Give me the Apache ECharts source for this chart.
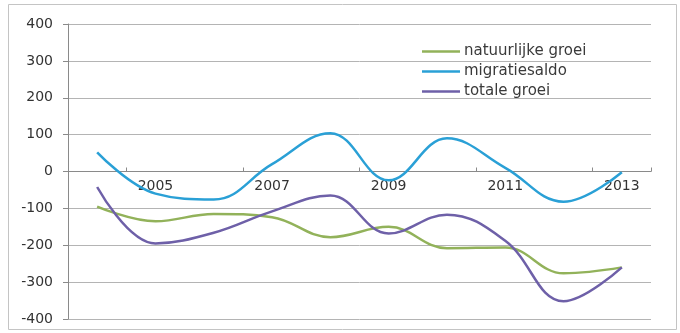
<!DOCTYPE html>
<html>
<head>
<meta charset="utf-8">
<script src="https://cdn.jsdelivr.net/npm/echarts@6/dist/echarts.min.js"></script>
<style>
  html, body { margin: 0; padding: 0; background: #fff; }
  #chart { width: 680px; height: 333px; }
</style>
</head>
<body>
<div id="chart"></div>
<script>
// Years on the category axis
const years = ['2004', '2005', '2006', '2007', '2008', '2009', '2010', '2011', '2012', '2013'];

// Population change per year
const natuurlijkeGroei = [-95, -135, -115, -124, -178, -150, -208, -206, -276, -260];
const migratiesaldo    = [52, -60, -76, 20, 104, -24, 90, 10, -82, -2];
const totaleGroei      = [-42, -195, -166, -108, -65, -168, -117, -188, -352, -260];

const seriesNames = ['natuurlijke groei', 'migratiesaldo', 'totale groei'];
const seriesColors = ['#92b25a', '#2aa0d6', '#6e60a8'];

// Plot area edges
const gridTop = 24;
const gridBottom = 14;
const chartHeight = 333;
// Shift the category axis up so it sits on the value 0 line (middle of -400..400)
const zeroOffset = -(chartHeight - gridTop - gridBottom) / 2;

const chart = echarts.init(document.getElementById('chart'), null, { renderer: 'canvas' });

const lineSeries = [natuurlijkeGroei, migratiesaldo, totaleGroei].map((values, i) => ({
  name: seriesNames[i],
  type: 'line',
  data: values,
  smooth: 0.4,
  symbol: 'none',
  lineStyle: { width: 2.5, color: seriesColors[i] },
  itemStyle: { color: seriesColors[i] },
  z: 3 + i
}));

chart.setOption({
  animation: false,
  backgroundColor: '#ffffff',
  textStyle: { fontFamily: 'DejaVu Sans' },
  graphic: [{
    type: 'rect',
    shape: { x: 8.5, y: 4.5, width: 668, height: 325 },
    style: { fill: 'none', stroke: '#c4c4c4', lineWidth: 1 },
    silent: true
  }],
  grid: { left: 68, right: 29, top: gridTop, bottom: gridBottom, containLabel: false, outerBoundsMode: 'none' },
  legend: {
    orient: 'vertical',
    left: 417,
    top: 39,
    itemWidth: 38,
    itemHeight: 12,
    itemGap: 5,
    icon: 'path://M0,5 L38,5 L38,7.5 L0,7.5 Z',
    textStyle: { fontFamily: 'DejaVu Sans', fontSize: 15, color: '#3a3a3a', padding: [0, 0, 0, -1] },
    data: seriesNames
  },
  xAxis: {
    type: 'category',
    data: years,
    boundaryGap: true,
    position: 'bottom',
    offset: zeroOffset,
    axisLine: { show: true, onZero: false, lineStyle: { color: '#8a8a8a', width: 1 } },
    axisTick: { show: true, inside: true, length: 4, lineStyle: { color: '#8a8a8a' } },
    axisLabel: {
      interval: (index) => index % 2 === 1,
      fontSize: 14,
      color: '#333',
      margin: 8
    },
    splitLine: { show: false }
  },
  yAxis: {
    type: 'value',
    min: -400,
    max: 400,
    interval: 100,
    axisLine: { show: true, onZero: false, lineStyle: { color: '#8a8a8a', width: 1 } },
    axisTick: { show: true, length: 5, lineStyle: { color: '#8a8a8a' } },
    axisLabel: { fontSize: 14, color: '#333', margin: 15 },
    splitLine: { show: true, lineStyle: { color: '#b4b4b4', width: 1 } }
  },
  series: lineSeries
});
</script>
</body>
</html>
